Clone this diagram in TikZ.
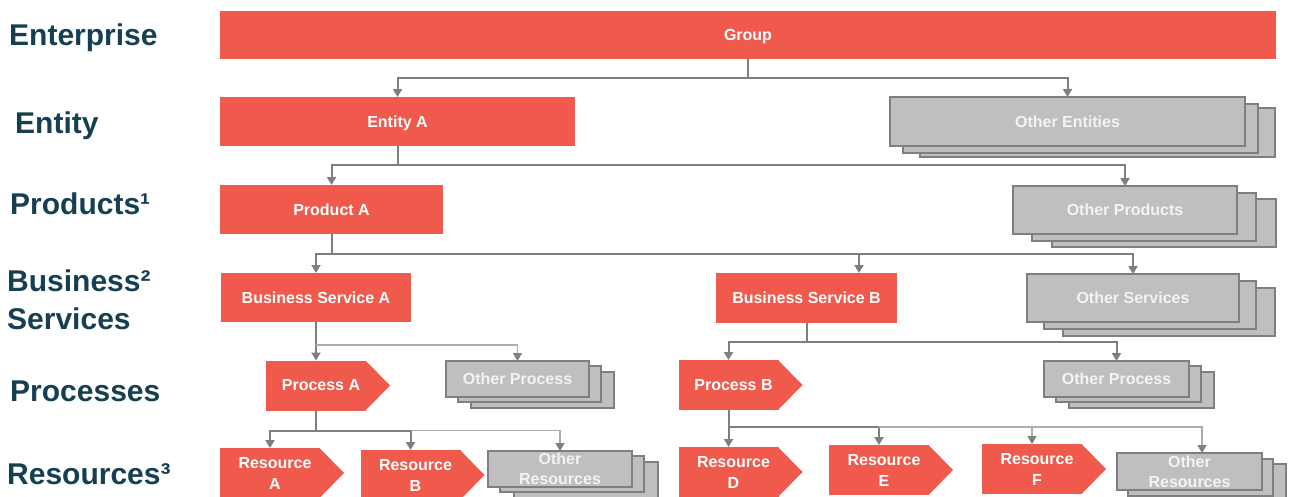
\documentclass[tikz,border=0pt]{standalone}
\usepackage{fontspec}
\setmainfont{Liberation Sans}
\usetikzlibrary{arrows.meta,backgrounds}

\definecolor{boxred}{RGB}{239,90,76}
\definecolor{boxgrey}{RGB}{191,191,191}
\definecolor{edgegrey}{RGB}{127,127,127}
\definecolor{lightline}{RGB}{172,172,172}
\definecolor{greytext}{RGB}{243,243,243}
\definecolor{levelteal}{RGB}{22,64,82}

\tikzset{
  redbox/.style={rectangle, fill=boxred, text=white,
    font=\bfseries\fontsize{16}{19}\selectfont,
    inner sep=0pt, outer sep=0pt, text height=11.5pt, text depth=0pt},
  greybox/.style={rectangle, fill=boxgrey, draw=edgegrey, line width=1.3pt,
    text=greytext, font=\bfseries\fontsize{16}{20}\selectfont,
    inner sep=0pt, outer sep=0pt, align=center},
  backbox/.style={fill=boxgrey, draw=edgegrey, line width=1.3pt},
  chevbody/.style={rectangle, fill=boxred, minimum width=100pt,
    minimum height=50pt, inner sep=0pt, outer sep=0pt},
  chevtext/.style={text=white, font=\bfseries\fontsize{16}{21}\selectfont,
    align=center, inner sep=0pt},
  level/.style={anchor=base west, text=levelteal,
    font=\bfseries\fontsize{30}{36}\selectfont, inner sep=0pt},
  link/.style={draw=edgegrey, line width=2pt},
  arrowlink/.style={link, -{Triangle[width=9pt,length=8pt]}},
  faintlink/.style={draw=lightline, line width=1.4pt,
    -{Triangle[width=9pt,length=8pt,color=edgegrey]}},
}

% two shifted copies behind a grey node, giving a stacked look
\newcommand\stackbehind[5]{%
  \begin{scope}[on background layer]
    \draw[backbox] ([shift={(#4,#5)}]#1.south west) rectangle ([shift={(#4,#5)}]#1.north east);
    \draw[backbox] ([shift={(#2,#3)}]#1.south west) rectangle ([shift={(#2,#3)}]#1.north east);
  \end{scope}}

% pointed right end of a chevron node
\newcommand\chevtip[1]{%
  \fill[boxred] ([xshift=-0.5pt]#1.north east) -- ([xshift=24pt]#1.east)
    -- ([xshift=-0.5pt]#1.south east) -- cycle;}

\begin{document}
\begin{tikzpicture}[x=1pt, y=-1pt]
\clip (0,0) rectangle (1289,496);
\useasboundingbox (0,0) rectangle (1289,496);

% level captions
\node[level] (lv1) at (9,45) {Enterprise};
\node[level] (lv2) at (15,133) {Entity};
\node[level] (lv3) at (10,214) {Products¹};
\node[level] (lv4) at (7,291) {Business²};
\node[level] (lv4b) at (7,329) {Services};
\node[level] (lv5) at (10,401) {Processes};
\node[level] (lv6) at (7,484) {Resources³};

% enterprise, entity, products
\node[redbox, minimum width=1056pt, minimum height=48pt] (grp) at (748,34.5) {Group};
\node[redbox, minimum width=355pt, minimum height=49pt] (ea) at (397.5,121.5) {Entity A};
\node[greybox, minimum width=355pt, minimum height=49pt] (oe) at (1067.5,121.5) {Other Entities};
\stackbehind{oe}{13}{7}{30}{11}
\node[redbox, minimum width=223pt, minimum height=49pt] (pra) at (331.5,209.5) {Product A};
\node[greybox, minimum width=224pt, minimum height=48pt] (op) at (1125,210) {Other Products};
\stackbehind{op}{19}{7}{39}{13}

% business services
\node[redbox, minimum width=190pt, minimum height=49pt] (bsa) at (316,297.5) {Business Service A};
\node[redbox, minimum width=181pt, minimum height=50pt] (bsb) at (806.5,298) {Business Service B};
\node[greybox, minimum width=212pt, minimum height=48pt] (os) at (1133,298) {Other Services};
\stackbehind{os}{17}{7}{36}{14}

% processes
\node[chevbody] (pa) at (316,385.5) {};
\chevtip{pa}
\node[chevtext] (pa-t) at ([xshift=5pt]pa.center) {Process A};
\node[greybox, minimum width=143pt, minimum height=36pt] (opl) at (517.5,379) {Other Process};
\stackbehind{opl}{12}{5}{25}{11}
\node[chevbody] (pb) at (728.5,385) {};
\chevtip{pb}
\node[chevtext] (pb-t) at ([xshift=5pt]pb.center) {Process B};
\node[greybox, minimum width=145pt, minimum height=36pt] (opr) at (1116.5,379) {Other Process};
\stackbehind{opr}{12}{5}{25}{11}

% resources
\node[chevbody] (ra) at (270,473) {};
\chevtip{ra}
\node[chevtext] (ra-t) at ([xshift=5pt]ra.center) {Resource\\A};
\node[chevbody] (rb) at (410.5,475) {};
\chevtip{rb}
\node[chevtext] (rb-t) at ([xshift=5pt]rb.center) {Resource\\B};
\node[greybox, minimum width=144pt, minimum height=36pt] (orl) at (560,469) {Other\\Resources};
\stackbehind{orl}{12}{5}{26}{11}
\node[chevbody] (rd) at (728.5,472) {};
\chevtip{rd}
\node[chevtext] (rd-t) at ([xshift=5pt]rd.center) {Resource\\D};
\node[chevbody] (re) at (879,470) {};
\chevtip{re}
\node[chevtext] (re-t) at ([xshift=5pt]re.center) {Resource\\E};
\node[chevbody] (rf) at (1032,469) {};
\chevtip{rf}
\node[chevtext] (rf-t) at ([xshift=5pt]rf.center) {Resource\\F};
\node[greybox, minimum width=145pt, minimum height=37pt] (orr) at (1189.5,471.5) {Other\\Resources};
\stackbehind{orr}{11}{6}{24}{11}

% connectors
\draw[link] (grp.south) -- ++(0,19) coordinate (j1);
\draw[arrowlink] (j1) -| (ea.north);
\draw[arrowlink] (j1) -| (oe.north);

\draw[link] (ea.south) -- ++(0,19) coordinate (j2);
\draw[arrowlink] (j2) -| (pra.north);
\draw[arrowlink] (j2) -| (op.north);

\draw[link] (pra.south) -- ++(0,20) coordinate (j3);
\draw[arrowlink] (j3) -| (bsa.north);
\draw[arrowlink] (j3) -| ([xshift=52.5pt]bsb.north);
\draw[arrowlink] (j3) -| (os.north);

\draw[link] (bsa.south) -- ++(0,23) coordinate (j4);
\draw[arrowlink] (j4) -- (pa.north);
\draw[faintlink] (j4) -| (opl.north);

\draw[link] (bsb.south) -- ++(0,19) coordinate (j5);
\draw[arrowlink] (j5) -| (pb.north);
\draw[arrowlink] (j5) -| (opr.north);

\draw[link] (pa.south) -- ++(0,20) coordinate (j6);
\draw[arrowlink] (j6) -| (ra.north);
\draw[arrowlink] (j6) -| (rb.north);
\draw[faintlink] (rb.north |- j6) -| (orl.north);

\draw[link] (pb.south) -- ++(0,17) coordinate (j7);
\draw[arrowlink] (j7) -- (rd.north);
\draw[arrowlink] (j7) -| (re.north);
\draw[faintlink] (re.north |- j7) -| (rf.north);
\draw[faintlink] (rf.north |- j7) -| ([xshift=12.5pt]orr.north);
\end{tikzpicture}
\end{document}
